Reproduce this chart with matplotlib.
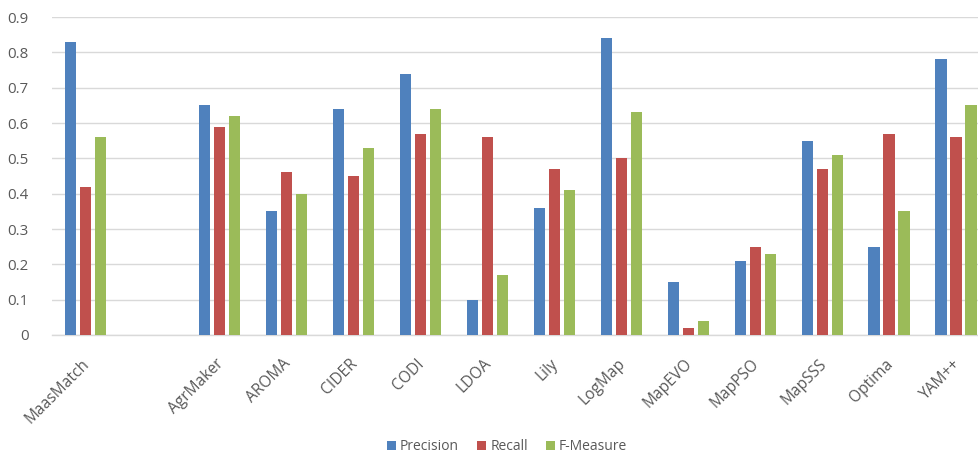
import matplotlib
matplotlib.use("Agg")
import matplotlib.pyplot as plt
import matplotlib.transforms as mtransforms
import numpy as np

plt.rcParams['font.family'] = ['Open Sans', 'DejaVu Sans']

# Systems (blank slot separates MaasMatch from the rest)
systems = ["MaasMatch", "", "AgrMaker", "AROMA", "CIDER", "CODI", "LDOA", "Lily",
           "LogMap", "MapEVO", "MapPSO", "MapSSS", "Optima", "YAM++"]
precision = [0.83, np.nan, 0.65, 0.35, 0.64, 0.74, 0.10, 0.36, 0.84, 0.15, 0.21, 0.55, 0.25, 0.78]
recall    = [0.42, np.nan, 0.59, 0.46, 0.45, 0.57, 0.56, 0.47, 0.50, 0.02, 0.25, 0.47, 0.57, 0.56]
fmeasure  = [0.56, np.nan, 0.62, 0.40, 0.53, 0.64, 0.17, 0.41, 0.63, 0.04, 0.23, 0.51, 0.35, 0.65]
series_names = ["Precision", "Recall", "F-Measure"]
colors = ["#4F81BD", "#C0504D", "#9BBB59"]
yticks = [0, 0.1, 0.2, 0.3, 0.4, 0.5, 0.6, 0.7, 0.8, 0.9]

W, H = 979, 455
fig = plt.figure(figsize=(W / 100, H / 100), dpi=100)
ax = fig.add_axes([52 / W, (H - 335) / H, 1 - 52 / W, (335 - 17) / H])

x = np.arange(len(systems))
pitch = 0.224
bw = 0.172
for k, (vals, name, c) in enumerate(zip([precision, recall, fmeasure], series_names, colors)):
    ax.bar(x + (k - 1) * pitch, vals, width=bw, color=c, label=name, zorder=3)

ax.set_xlim(-0.5, 13.34)
ax.set_ylim(0, 0.9)
ax.set_yticks(yticks)
ax.set_yticklabels([f"{v:g}" for v in yticks])
ax.grid(axis='y', color='#d9d9d9', linewidth=1.0, zorder=0)
for s in ['top', 'right', 'left']:
    ax.spines[s].set_visible(False)
ax.spines['bottom'].set_color('#d9d9d9')
ax.spines['bottom'].set_linewidth(1.0)
ax.tick_params(axis='both', length=0, colors='#595959')
ax.tick_params(axis='y', pad=17, labelsize=10.8)

ax.set_xticks(x)
ax.set_xticklabels(systems, rotation=45, ha='right', va='top', rotation_mode='anchor')
ax.tick_params(axis='x', pad=15, labelsize=11.2)
shift = mtransforms.ScaledTranslation(-4 / 100, 0, fig.dpi_scale_trans)
for lbl in ax.get_xticklabels():
    lbl.set_transform(lbl.get_transform() + shift)

fig.legend(loc='center', bbox_to_anchor=(507 / W, (H - 447) / H), ncol=3, frameon=False,
           fontsize=10, handlelength=0.65, handleheight=0.65, handletextpad=0.3,
           columnspacing=1.3, labelcolor='#595959')

fig.savefig("out.png", dpi=100)
